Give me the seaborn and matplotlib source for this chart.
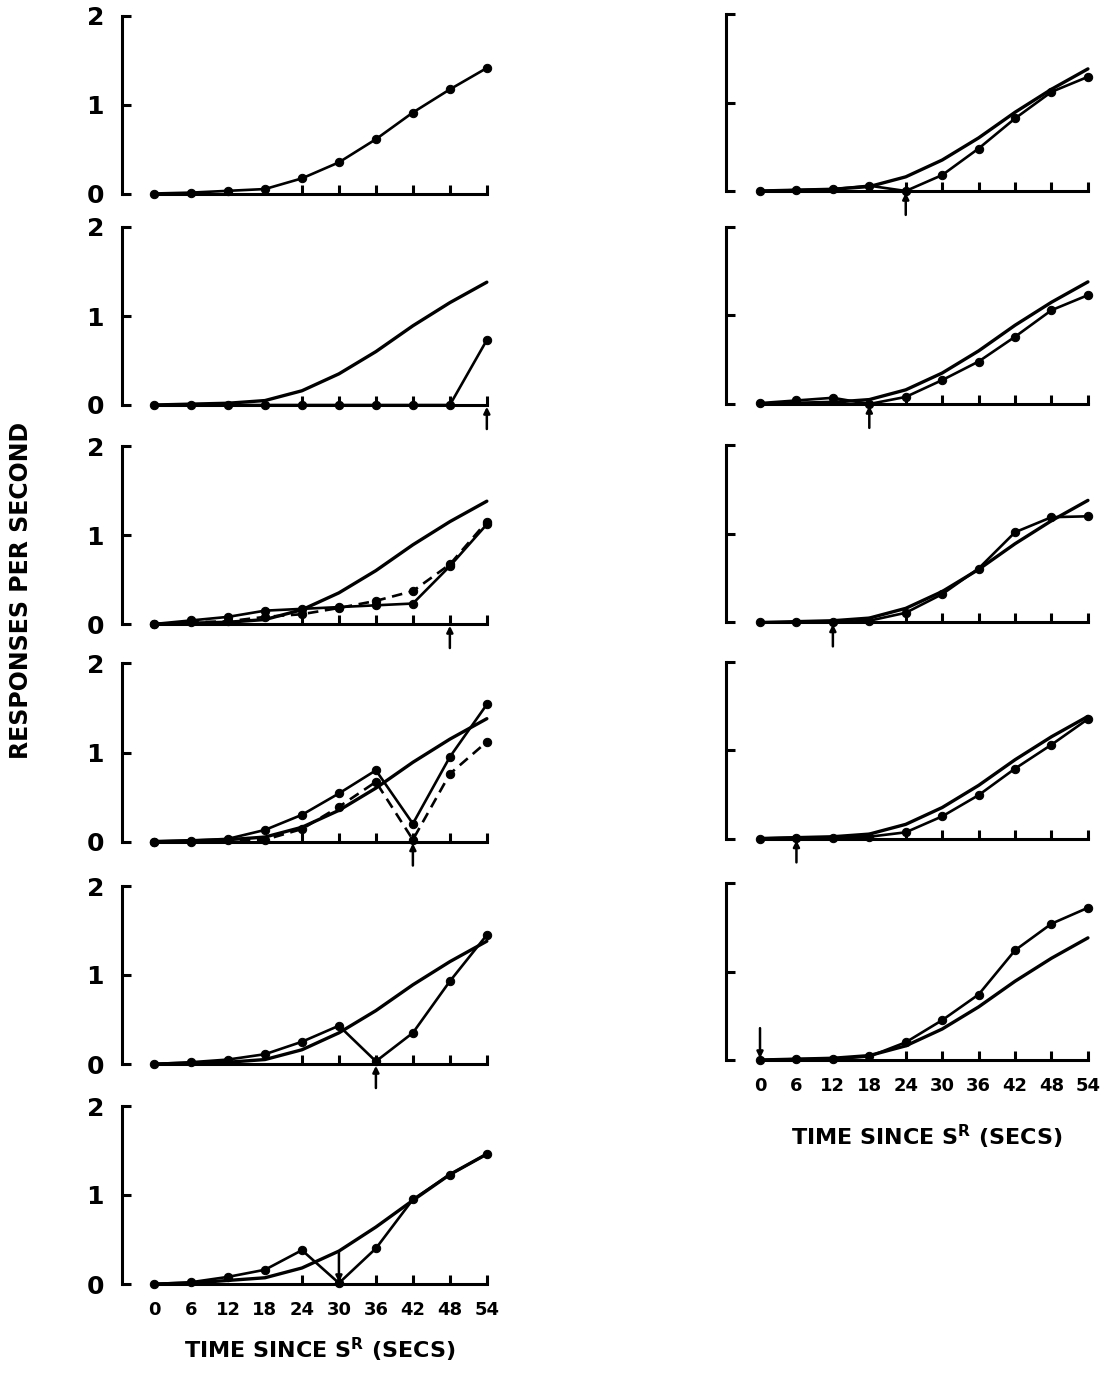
import pandas as pd
import seaborn as sns
import matplotlib.pyplot as plt

# time since reinforcement (secs)
times = [0, 6, 12, 18, 24, 30, 36, 42, 48, 54]

# smooth reference curve drawn (without dots) in most panels
baseline = [0.00, 0.01, 0.02, 0.05, 0.16, 0.35, 0.60, 0.89, 1.15, 1.38]
baseline_l6 = [0.00, 0.01, 0.04, 0.07, 0.18, 0.37, 0.64, 0.94, 1.23, 1.46]

# left column, top to bottom
l1_dots = [0.00, 0.01, 0.03, 0.05, 0.17, 0.35, 0.61, 0.91, 1.17, 1.41]
l2_dots = [0.00, 0.00, 0.00, 0.00, 0.00, 0.00, 0.00, 0.00, 0.00, 0.73]
l3_solid = [0.00, 0.04, 0.08, 0.15, 0.17, 0.19, 0.21, 0.23, 0.65, 1.12]
l3_dashed = [0.00, 0.02, 0.03, 0.08, 0.11, 0.18, 0.26, 0.37, 0.67, 1.15]
l4_solid = [0.00, 0.01, 0.03, 0.13, 0.30, 0.54, 0.80, 0.20, 0.95, 1.54]
l4_dashed = [0.00, 0.00, 0.02, 0.02, 0.14, 0.39, 0.67, 0.02, 0.76, 1.12]
l5_dots = [0.00, 0.02, 0.05, 0.11, 0.25, 0.43, 0.03, 0.35, 0.93, 1.45]
l6_dots = [0.00, 0.02, 0.08, 0.16, 0.38, 0.01, 0.40, 0.95, 1.23, 1.46]

# right column, top to bottom
r1_dots = [0.00, 0.01, 0.02, 0.06, 0.00, 0.18, 0.48, 0.82, 1.12, 1.29]
r2_dots = [0.01, 0.04, 0.07, 0.00, 0.08, 0.27, 0.48, 0.76, 1.06, 1.23]
r3_dots = [0.00, 0.00, 0.00, 0.02, 0.11, 0.32, 0.61, 1.02, 1.19, 1.20]
r4_dots = [0.00, 0.01, 0.01, 0.02, 0.07, 0.25, 0.49, 0.79, 1.06, 1.35]
r5_dots = [0.00, 0.01, 0.01, 0.04, 0.20, 0.45, 0.74, 1.24, 1.54, 1.72]

# time at which the arrow marks each panel
arrows_left = [None, 54, 48, 42, 36, 30]
arrows_right = [24, 18, 12, 6, 0]

y_ticks = [0, 1, 2]
xlabel = 'TIME SINCE S$^{\\mathbf{R}}$ (SECS)'
ylabel = 'RESPONSES PER SECOND'

sns.set_style('ticks')
plt.rcParams['font.family'] = ['DejaVu Sans']
plt.rcParams['font.weight'] = 'bold'
for k in ['text.color', 'axes.edgecolor', 'xtick.color', 'ytick.color',
		'axes.labelcolor']:
	plt.rcParams[k] = 'black'

W, H = 1118, 1375
fig = plt.figure(figsize=(W / 100, H / 100), dpi=100)

panels = [
	# col, row, baseline, solid dots, dashed dots, arrow, arrow from above
	(0, 0, None, l1_dots, None, arrows_left[0], False),
	(0, 1, baseline, l2_dots, None, arrows_left[1], False),
	(0, 2, baseline, l3_solid, l3_dashed, arrows_left[2], False),
	(0, 3, baseline, l4_solid, l4_dashed, arrows_left[3], False),
	(0, 4, baseline, l5_dots, None, arrows_left[4], False),
	(0, 5, baseline_l6, l6_dots, None, arrows_left[5], True),
	(1, 0, baseline, r1_dots, None, arrows_right[0], False),
	(1, 1, baseline, r2_dots, None, arrows_right[1], False),
	(1, 2, baseline, r3_dots, None, arrows_right[2], False),
	(1, 3, baseline, r4_dots, None, arrows_right[3], False),
	(1, 4, baseline, r5_dots, None, arrows_right[4], True),
]

# pixel layout of the two columns
col_left = [122, 726]
col_width = [371, 368]
col_xmin = [-5.2, -5.6]
zero_px = [[193.5, 405, 624, 841.5, 1064, 1284], [191, 404, 622.5, 838.5, 1060]]
panel_h = [178, 177]
last_row = [5, 4]

for col, row, base, solid, dashed, arrow, from_above in panels:
	z = zero_px[col][row]
	ax = fig.add_axes([col_left[col] / W, 1 - z / H,
		col_width[col] / W, panel_h[col] / H])
	ax.set_xlim(col_xmin[col], 55)
	ax.set_ylim(0, 2)

	if base is not None:
		sns.lineplot(x=times, y=base, ax=ax, color='black',
			linewidth=2.4, clip_on=False)
	sns.lineplot(x=times, y=solid, ax=ax, color='black', marker='o',
		markersize=6, markeredgecolor='black', linewidth=1.9,
		clip_on=False)
	if dashed is not None:
		sns.lineplot(x=times, y=dashed, ax=ax, color='black', marker='o',
			markersize=6, markeredgecolor='black', linewidth=1.9,
			linestyle=(0, (4, 2.5)), clip_on=False)

	# the little arrows under (or over) the time axis
	if arrow is not None:
		if from_above:
			start, end = 0.36, 0.02
		else:
			start, end = -0.27, -0.02
		ax.annotate('', xy=(arrow, end), xytext=(arrow, start),
			arrowprops=dict(arrowstyle='-|>', color='black', lw=1.8,
				mutation_scale=9, shrinkA=0, shrinkB=0),
			annotation_clip=False)

	# bracket-like axes
	for s in ['top', 'right']:
		ax.spines[s].set_visible(False)
	ax.spines['left'].set_bounds(0, 2)
	ax.spines['bottom'].set_bounds(0, 54)
	ax.spines['left'].set_linewidth(2.2)
	ax.spines['bottom'].set_linewidth(2.2)
	ax.set_yticks(y_ticks)
	ax.set_xticks(times)
	ax.tick_params(axis='both', direction='in', length=6.5, width=2.2)
	ax.tick_params(axis='y', pad=13, labelsize=18)
	ax.tick_params(axis='x', pad=12, labelsize=13)
	# the early time ticks are hidden under the curves in the original
	for tick in ax.xaxis.get_major_ticks()[:4]:
		tick.tick1line.set_visible(False)
	if col == 1:
		ax.set_yticklabels([])
	if row != last_row[col]:
		ax.set_xticklabels([])
	ax.set_xlabel('')
	ax.set_ylabel('')

fig.text(320 / W, 1 - 1350 / H, xlabel, ha='center', va='center',
	fontsize=16, fontweight='bold')
fig.text(927 / W, 1 - 1137 / H, xlabel, ha='center', va='center',
	fontsize=16, fontweight='bold')
fig.text(21 / W, 1 - 590 / H, ylabel, ha='center', va='center',
	rotation=90, fontsize=17, fontweight='bold')

plt.savefig('out.png', dpi=100)
